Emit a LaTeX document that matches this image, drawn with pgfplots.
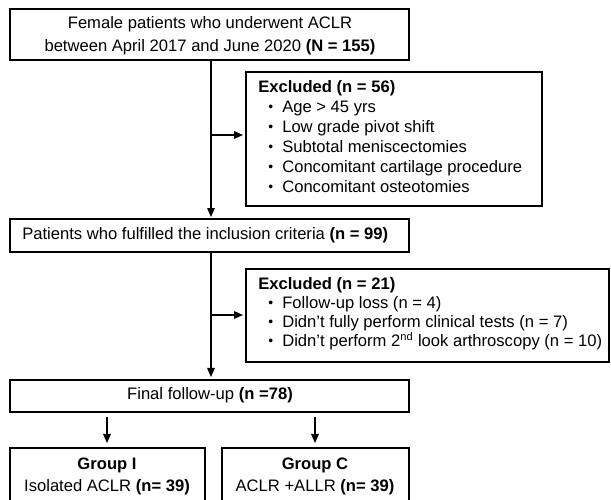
\documentclass[border=0pt]{standalone}
\usepackage{pgfplots}
\pgfplotsset{compat=1.18}
\usepackage{fontspec}
\setmainfont{Liberation Sans}
\usetikzlibrary{arrows.meta}
\newcommand{\bul}{\raisebox{0.2ex}{\fontsize{10}{10}\selectfont\textbullet}}
\begin{document}
\fontsize{12}{14}\selectfont
\begin{tikzpicture}
\begin{axis}[scale only axis, width=6.11in, height=5in, xmin=0, xmax=611, ymin=0, ymax=500,
  y dir=reverse, axis lines=none, clip=false]
\addplot[draw=none] coordinates {(0,0) (611,500)};
\tikzset{bx/.style={line width=1.5pt}, ar/.style={line width=0.8pt,-{Triangle[length=6.5pt,width=5.5pt]}},
  t/.style={anchor=base west, inner sep=0pt}, c/.style={anchor=base, inner sep=0pt}}
% box 1
\draw[bx] (axis cs:10,9) rectangle (axis cs:409,60);
\node[c] at (axis cs:210,29) {Female patients who underwent ACLR};
\node[c] at (axis cs:210,52) {between April 2017 and June 2020 \textbf{(N = 155)}};
% main arrow 1
\draw[ar] (axis cs:211,60) -- (axis cs:211,217);
\draw[ar] (axis cs:211,135) -- (axis cs:243,135);
% box 2
\draw[bx] (axis cs:246,72) rectangle (axis cs:542,206);
\node[t] at (axis cs:258,93) {\textbf{Excluded (n = 56)}};
\node[t] at (axis cs:268,113) {\bul};
\node[t] at (axis cs:282,113) {Age > 45 yrs};
\node[t] at (axis cs:268,133) {\bul};
\node[t] at (axis cs:282,133) {Low grade pivot shift};
\node[t] at (axis cs:268,153) {\bul};
\node[t] at (axis cs:282,153) {Subtotal meniscectomies};
\node[t] at (axis cs:268,173) {\bul};
\node[t] at (axis cs:282,173) {Concomitant cartilage procedure};
\node[t] at (axis cs:268,193) {\bul};
\node[t] at (axis cs:282,193) {Concomitant osteotomies};
% box 3
\draw[bx] (axis cs:10,219) rectangle (axis cs:409,252);
\node[t] at (axis cs:22,240) {Patients who fulfilled the inclusion criteria \textbf{(n = 99)}};
% main arrow 2
\draw[ar] (axis cs:211,252) -- (axis cs:211,377);
\draw[ar] (axis cs:211,315) -- (axis cs:243,315);
% box 4
\draw[bx] (axis cs:246,269) rectangle (axis cs:609,362);
\node[t] at (axis cs:258,290) {\textbf{Excluded (n = 21)}};
\node[t] at (axis cs:268,309) {\bul};
\node[t] at (axis cs:282,309) {Follow-up loss (n = 4)};
\node[t] at (axis cs:268,328) {\bul};
\node[t] at (axis cs:282,328) {Didn't fully perform clinical tests (n = 7)};
\node[t] at (axis cs:268,347) {\bul};
\node[t] at (axis cs:282,347) {Didn't perform 2\textsuperscript{nd} look arthroscopy (n = 10)};
% box 5
\draw[bx] (axis cs:10,380) rectangle (axis cs:409,412);
\node[c] at (axis cs:210,400) {Final follow-up \textbf{(n =78)}};
\draw[ar] (axis cs:107,417) -- (axis cs:107,443);
\draw[ar] (axis cs:315,417) -- (axis cs:315,443);
% boxes 6, 7
\draw[bx] (axis cs:10,510) -- (axis cs:10,448) -- (axis cs:205,448) -- (axis cs:205,510);
\draw[bx] (axis cs:222,510) -- (axis cs:222,448) -- (axis cs:409,448) -- (axis cs:409,510);
\node[c] at (axis cs:107,470) {\textbf{Group I}};
\node[c] at (axis cs:107,492) {Isolated ACLR \textbf{(n= 39)}};
\node[c] at (axis cs:315,470) {\textbf{Group C}};
\node[c] at (axis cs:315,492) {ACLR +ALLR \textbf{(n= 39)}};
\end{axis}
\pgfresetboundingbox
\useasboundingbox (current axis.south west) rectangle (current axis.north east);
\end{tikzpicture}
\end{document}
